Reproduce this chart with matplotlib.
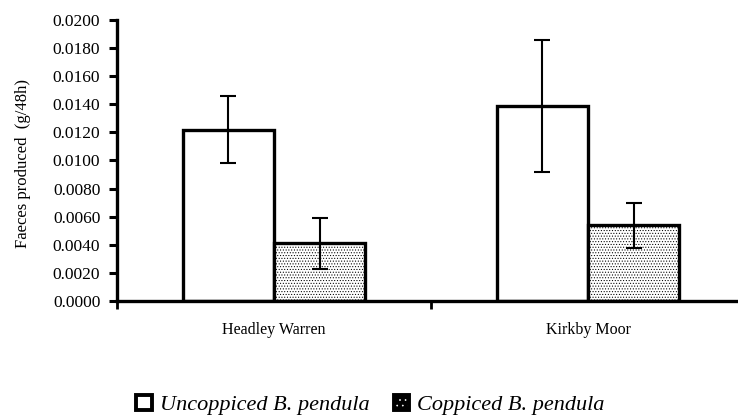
import matplotlib
matplotlib.use("Agg")
import matplotlib.pyplot as plt
from matplotlib.patches import Patch
import numpy as np

# Faeces production per 48 h at two sites
sites = ["Headley Warren", "Kirkby Moor"]
uncoppiced = [0.0122, 0.0139]
uncoppiced_err = [0.0024, 0.0047]
coppiced = [0.0041, 0.0054]
coppiced_err = [0.0018, 0.0016]
y_ticks = [0.0000, 0.0020, 0.0040, 0.0060, 0.0080, 0.0100,
           0.0120, 0.0140, 0.0160, 0.0180, 0.0200]
series_names = ["Uncoppiced B. pendula", "Coppiced B. pendula"]

plt.rcParams["font.family"] = ["Liberation Serif", "DejaVu Serif"]
plt.rcParams["hatch.linewidth"] = 0.45

fig = plt.figure(figsize=(7.38, 4.19), dpi=100)
ax = fig.add_axes([0.1585, 0.2816, 0.851, 0.6707])

x = np.arange(len(sites))
w = 0.29
edge_lw = 2.4

ax.bar(x - w / 2, uncoppiced, width=w, facecolor="white", edgecolor="black",
       linewidth=edge_lw, zorder=2)
ax.bar(x + w / 2, coppiced, width=w, facecolor="white", edgecolor="black",
       linewidth=edge_lw, hatch="......", zorder=2)

ax.errorbar(x - w / 2, uncoppiced, yerr=uncoppiced_err, fmt="none",
            ecolor="black", elinewidth=1.5, capsize=5.5, capthick=1.5, zorder=3)
ax.errorbar(x + w / 2, coppiced, yerr=coppiced_err, fmt="none",
            ecolor="black", elinewidth=1.5, capsize=5.5, capthick=1.5, zorder=3)

ax.set_xlim(-0.5, 1.5)
ax.set_ylim(0, 0.02)
ax.set_yticks(y_ticks)
ax.set_yticklabels([f"{v:.4f}" for v in y_ticks], fontsize=12.5)

# category boundaries get tick marks, category names sit between them
ax.set_xticks([-0.5, 0.5, 1.5])
ax.set_xticklabels([])
ax.set_xticks(x, minor=True)
ax.set_xticklabels(sites, minor=True, fontsize=11.5)
ax.tick_params(axis="x", which="minor", length=0, pad=15)
ax.tick_params(axis="x", which="major", direction="out", length=6, width=2)
ax.tick_params(axis="y", direction="out", length=6, width=2.2, pad=6)

for side in ("top", "right"):
    ax.spines[side].set_visible(False)
for side in ("left", "bottom"):
    ax.spines[side].set_linewidth(2.4)

ax.set_ylabel("Faeces produced  (g/48h)", fontsize=12)
ax.yaxis.set_label_coords(-0.137, 0.49)

# legend keys: plain white box, and a dark box with a light dotted centre
plain_key = Patch(facecolor="white", edgecolor="black", linewidth=2.8)
dotted_key = (Patch(facecolor="black", edgecolor="white", linewidth=0, hatch="..."),
              Patch(facecolor="none", edgecolor="black", linewidth=2.8))
leg = fig.legend([plain_key, dotted_key], series_names, loc="center",
                 bbox_to_anchor=(0.502, 0.033), ncol=2, frameon=False,
                 handlelength=0.7, handleheight=0.7,
                 handletextpad=0.35, columnspacing=1.1,
                 prop={"family": "Liberation Serif", "style": "italic", "size": 16})

fig.savefig("out.png", dpi=100)
